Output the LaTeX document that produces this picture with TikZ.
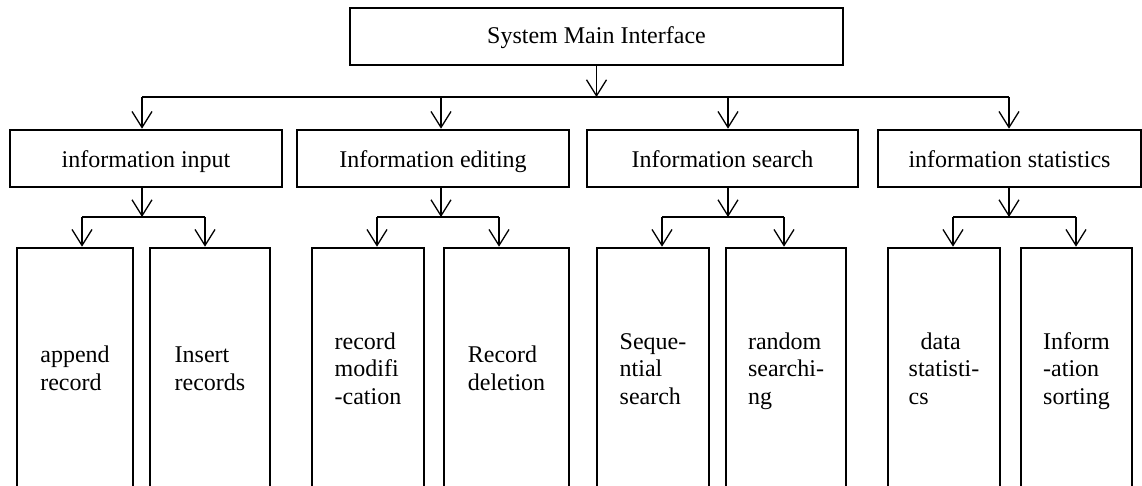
\documentclass[tikz,border=0pt]{standalone}
\usepackage{fontspec}
\setmainfont{Liberation Serif}
\usepackage{tikz}
\usetikzlibrary{shapes, arrows.meta, positioning, calc}

\begin{document}
\begin{tikzpicture}[x=1pt, y=-1pt,
        box/.style={draw, line width=2.6pt, inner sep=0pt, minimum height=57pt,
            text height=20pt, text depth=1pt,
            font=\fontsize{24}{27.5}\selectfont},
        leaf/.style={draw, line width=2.6pt, inner sep=0pt, align=left,
            minimum height=246pt, font=\fontsize{24}{27.5}\selectfont},
        wire/.style={line width=1.3pt},
        link/.style={wire, -{Straight Barb[length=16pt, width=20pt]}}]
        % Page frame
        \useasboundingbox (0,0) rectangle (1142,486);
        \clip (0,0) rectangle (1142,486);

        % Top block
        \node[box, minimum width=493pt, text height=17pt, text depth=2pt] (main)
            at (596.5,36.5) {System Main Interface};

        % Second row of blocks
        \foreach \name/\x/\w/\txt in {
            input/146/272/information input,
            edit/433/272/Information editing,
            search/722.5/271/Information search,
            stats/1009.5/263/information statistics} {
            \node[box, minimum width=\w pt] (\name) at (\x,158.5) {\txt};
        }

        % Bottom row of blocks (bottom edge runs off the page)
        \foreach \name/\x/\w/\txt in {
            append/75/116/{append\\record},
            insert/210/120/{Insert\\records},
            modify/368/112/{record\\modifi\\-cation},
            delete/506.5/125/{Record\\deletion},
            seqsearch/653/112/{Seque-\\ntial\\search},
            randsearch/786/120/{random\\searchi-\\ng},
            datastat/944/112/{\hspace*{12pt}data\\statisti-\\cs},
            sorting/1076.5/111/{Inform\\-ation\\sorting}} {
            \node[leaf, minimum width=\w pt] (\name) at (\x,371) {\strut\txt\strut};
        }

        % Bus under the top block
        \coordinate (bus) at (596.5,97);
        \draw[link] (main.south) -- (bus);

        % Connectors of each group
        \foreach \grp/\tx/\lx/\rx/\lc/\rc in {
            input/142/82/205/append/insert,
            edit/441/377/499/modify/delete,
            search/728/662/784/seqsearch/randsearch,
            stats/1009/953/1076/datastat/sorting} {
            \coordinate (top\grp) at (\tx,97);
            \coordinate (mid\grp) at (\tx,217);
            \coordinate (l\grp) at (\lx,217);
            \coordinate (r\grp) at (\rx,217);
            \draw[link] (top\grp) -- (top\grp |- \grp.north);
            \draw[link] (top\grp |- \grp.south) -- (mid\grp);
            \draw[wire] (l\grp) -- (r\grp);
            \draw[link] (l\grp) -- (l\grp |- \lc.north);
            \draw[link] (r\grp) -- (r\grp |- \rc.north);
        }
        \draw[wire] (topinput) -- (topstats);
    \end{tikzpicture}
\end{document}
